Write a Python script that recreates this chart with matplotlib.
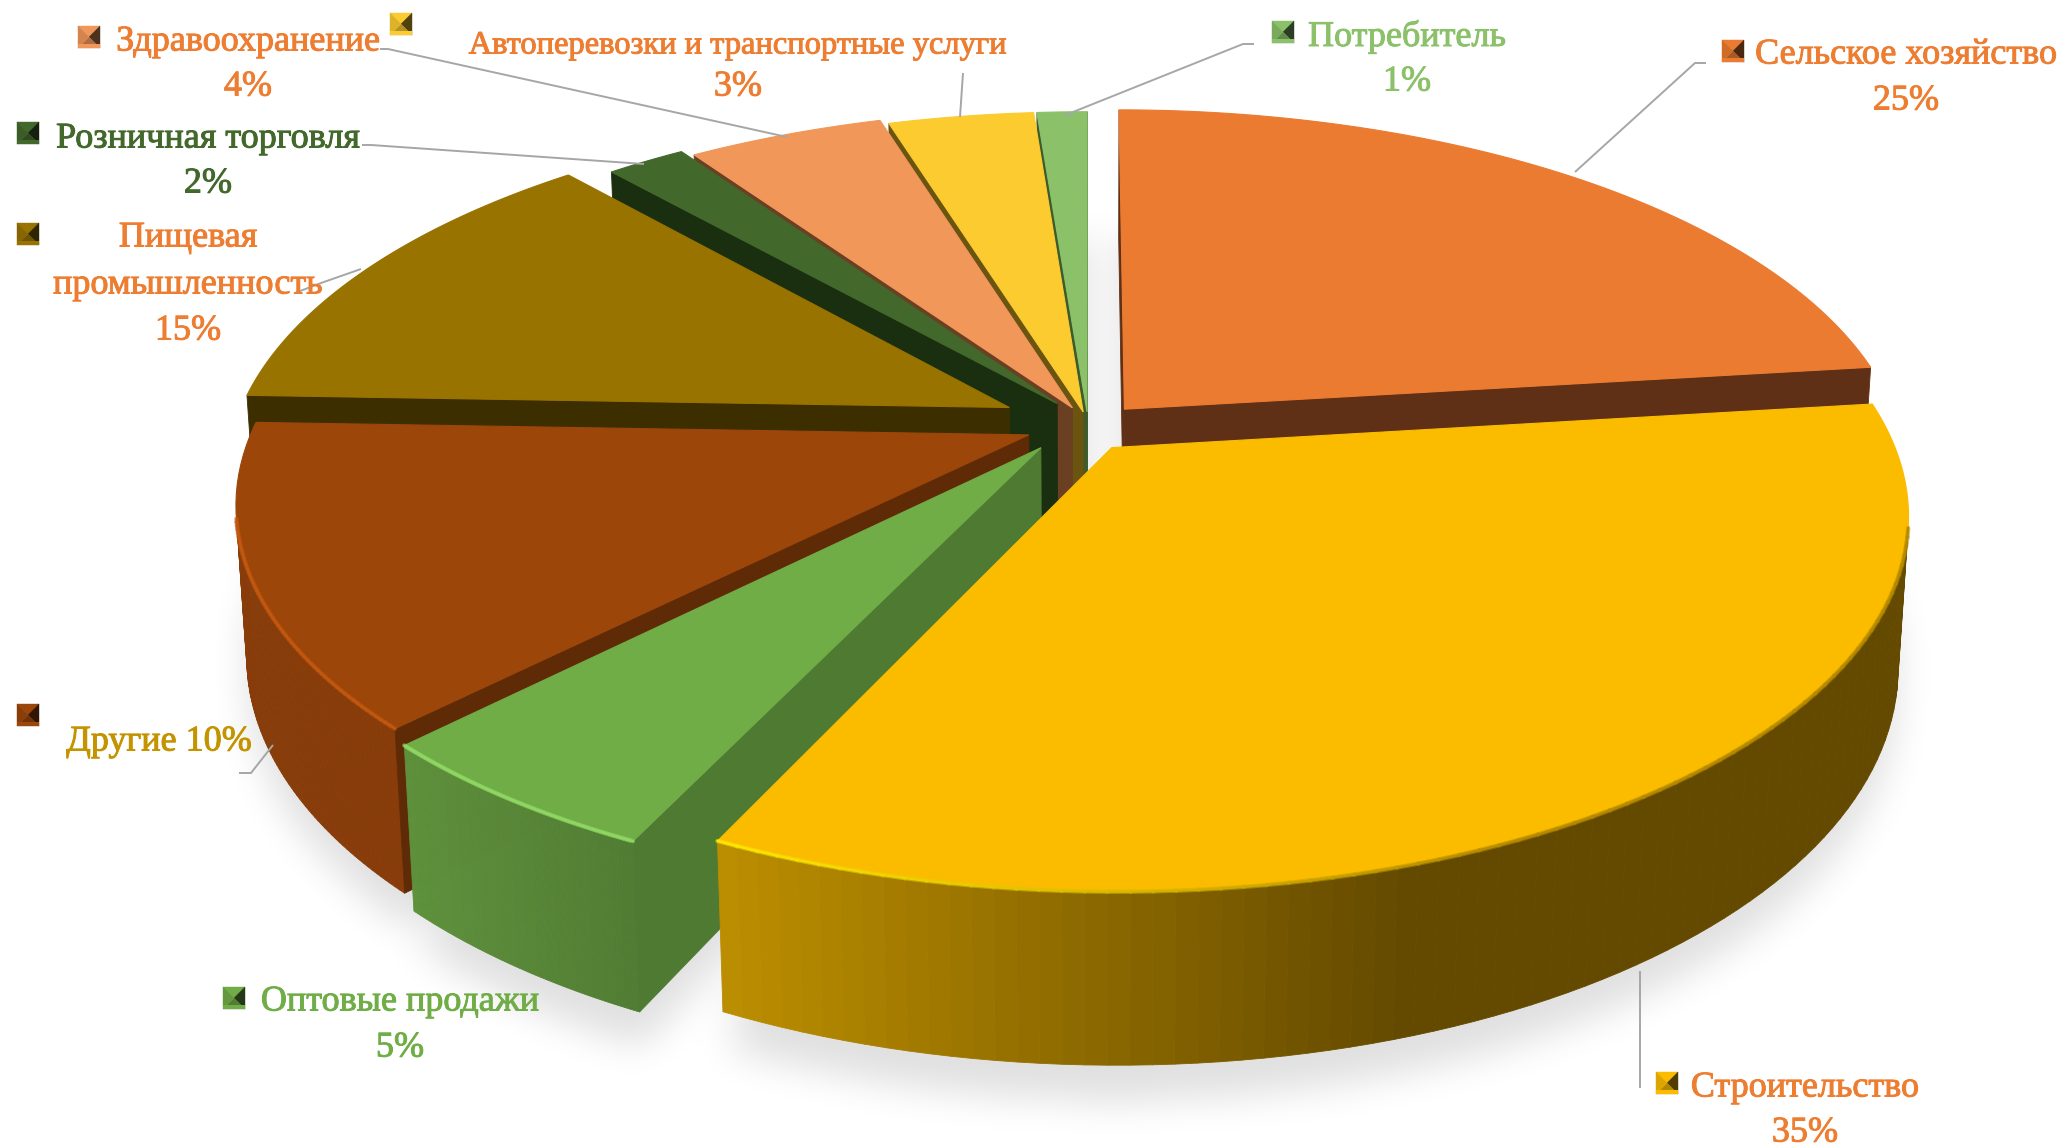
import numpy as np
import matplotlib
matplotlib.use("Agg")
import matplotlib.pyplot as plt
import matplotlib.patheffects as pe
from matplotlib.collections import PolyCollection, LineCollection
from matplotlib.colors import to_rgb
from matplotlib.patches import Polygon
from matplotlib.path import Path
from matplotlib.transforms import Transform, Affine2D

# ---------- data ----------
categories = ["Сельское хозяйство", "Строительство", "Оптовые продажи", "Другие",
              "Пищевая промышленность", "Розничная торговля", "Здравоохранение",
              "Автоперевозки и транспортные услуги", "Потребитель"]
shares = [25, 35, 5, 10, 15, 2, 4, 3, 1]

# ---------- style ----------
top_colors = ["#EB7B30", "#FBBC00", "#70AD47", "#9C460A", "#997300",
              "#43682B", "#F1975A", "#FBCB30", "#8BC169"]
wall_left = ["#5F3015", "#BC8E00", "#5E913C", "#873C0A", "#3D2E00",
             "#1A2E10", "#6B3F22", "#6B5310", "#3E5C2B"]
wall_right = ["#5F3015", "#644A00", "#4F7A32", "#843B0A", "#3D2E00",
              "#1A2E10", "#6B3F22", "#6B5310", "#3E5C2B"]
radial_colors = ["#5F3015", "#644A00", "#4F7A32", "#5F2B07", "#3D2E00",
                 "#1A2E10", "#6B3F22", "#6B5310", "#3E5C2B"]
rim_left = ["#C86A2A", "#FFE800", "#8FD663", "#C2570F", "#997300",
            "#43682B", "#F1975A", "#FBCB30", "#8BC169"]
rim_right = ["#C86A2A", "#B58A00", "#7FC253", "#C2570F", "#997300",
             "#43682B", "#F1975A", "#FBCB30", "#8BC169"]
paint_order = [8, 7, 6, 5, 0, 4, 3, 2, 1]
explode_amounts = [0.067, 0.067, 0.085, 0.08, 0.115, 0.075, 0.055, 0.04, 0.04]

# Perspective of the picture (pixels of the full-size canvas)
CX, CY = 1088.0, 426.0
RX, RY = 775.0, 357.5
DIST = 5.68
HEIGHT = 149.0
Z_RECEDE = 0.07
# Excel's 3-D view slightly distorts the slice angles
ANGLE_TRUE = [0, 90, 216, 234, 270, 324, 331.2, 345.6, 356.4, 360]
ANGLE_SEEN = [0, 83, 205.3, 224.6, 272, 318.5, 325.5, 342.8, 355.6, 360]


class PieProjection(Transform):
    """Maps pie coordinates of one exploded slice on to the tilted 3-D view."""
    input_dims = output_dims = 2
    is_affine = False
    has_inverse = False

    def __init__(self, center):
        super().__init__()
        self.center = np.asarray(center, float)

    def project(self, xy, z=0.0):
        xy = np.atleast_2d(xy)
        rel = xy - self.center
        r = np.hypot(rel[:, 0], rel[:, 1])
        clock = np.degrees(np.arctan2(rel[:, 0], rel[:, 1])) % 360
        seen = np.radians(np.interp(clock, ANGLE_TRUE, ANGLE_SEEN))
        x = self.center[0] + r * np.sin(seen)
        y = self.center[1] + r * np.cos(seen)
        s = DIST / (DIST + y + Z_RECEDE * z)
        return np.column_stack([CX + RX * x * s, CY - RY * y * s + HEIGHT * z * s])

    def transform_non_affine(self, values):
        return self.project(values)

    def transform_path_non_affine(self, path):
        polys = path.transformed(Affine2D().scale(3000)).to_polygons(closed_only=False)
        v = np.concatenate(polys) / 3000.0
        return Path(self.project(v))


fig = plt.figure(figsize=(20.64, 11.46), dpi=100, facecolor="white")
ax = fig.add_axes([0, 0, 1, 1])

wedges, _ = ax.pie(shares, explode=explode_amounts, startangle=90,
                   counterclock=False, colors=top_colors, radius=1.0)
ax.set_aspect("auto")
ax.set_xlim(0, 2064)
ax.set_ylim(1146, 0)
ax.axis("off")


def area(q):
    x, y = q[:, 0], q[:, 1]
    return 0.5 * np.sum(x * np.roll(y, -1) - np.roll(x, -1) * y)


def arc_points(w, n=90):
    t = np.radians(np.linspace(w.theta2, w.theta1, n))  # clockwise on the pie
    return np.column_stack([w.center[0] + w.r * np.cos(t), w.center[1] + w.r * np.sin(t)])


# soft shadow on the floor
gx, gy = np.meshgrid(np.arange(0, 2064, 4) + 2, np.arange(0, 1146, 4) + 2)
grid = np.column_stack([gx.ravel(), gy.ravel()])
mask = np.zeros(gx.shape)
for w in wedges:
    proj = PieProjection(w.center)
    poly = np.vstack([[w.center], arc_points(w)])
    for zz in (1.0, 1.22):
        pg = proj.project(poly, zz)
        mask = np.maximum(mask, Path(pg).contains_points(grid).reshape(gx.shape).astype(float))
kernel = np.ones(9) / 9.0
for _ in range(3):
    mask = np.apply_along_axis(lambda c: np.convolve(c, kernel, mode="same"), 0, mask)
    mask = np.apply_along_axis(lambda c: np.convolve(c, kernel, mode="same"), 1, mask)
rgba = np.zeros(mask.shape + (4,))
rgba[..., 3] = mask * 0.125
ax.imshow(rgba, extent=(0, 2064, 1146, 0), origin="upper", aspect="auto", zorder=1,
          interpolation="bilinear")
ax.set_xlim(0, 2064)
ax.set_ylim(1146, 0)

# slices, back to front
for rank, i in enumerate(paint_order):
    w = wedges[i]
    proj = PieProjection(w.center)
    base = 10 + 10 * rank
    arc = arc_points(w)
    top = proj.project(arc, 0.0)
    bot = proj.project(arc, 1.0)

    quads, cols, rim_segs, rim_cols = [], [], [], []
    cl, cr = np.array(to_rgb(wall_left[i])), np.array(to_rgb(wall_right[i]))
    rl, rr = np.array(to_rgb(rim_left[i])), np.array(to_rgb(rim_right[i]))
    for k in range(len(arc) - 1):
        q = np.array([top[k], top[k + 1], bot[k + 1], bot[k]])
        if area(q) >= 0:
            continue
        xm = q[:, 0].mean()
        f = np.clip((xm - 720) / (1400 - 720), 0, 1) if i == 1 else \
            np.clip((xm - 410) / (660 - 410), 0, 1)
        quads.append(q)
        cols.append(cl + (cr - cl) * f)
        g = np.clip((xm - 720) / (1500 - 720), 0, 1)
        rim_segs.append(top[k:k + 2])
        rim_cols.append(rl + (rr - rl) * g)
    if quads:
        ax.add_collection(PolyCollection(quads, facecolors=cols, edgecolors=cols,
                                         linewidths=0.6, zorder=base + 1))
        ax.add_collection(LineCollection(rim_segs, colors=rim_cols, linewidths=3.2,
                                         alpha=0.55, zorder=base + 4, capstyle="round"))
        ax.add_collection(LineCollection(rim_segs, colors=rim_cols, linewidths=1.6,
                                         zorder=base + 4, capstyle="round"))

    apex_t = proj.project(np.array(w.center), 0.0)[0]
    apex_b = proj.project(np.array(w.center), 1.0)[0]
    for idx, sign in ((0, -1), (-1, 1)):
        q = np.array([apex_t, top[idx], bot[idx], apex_b])
        if area(q) * sign > 0:
            ax.add_patch(Polygon(q, closed=True, facecolor=radial_colors[i],
                                 edgecolor=radial_colors[i], linewidth=0.6,
                                 zorder=base + 2))

    w.set_transform(proj + ax.transData)
    w.set_clip_on(False)
    w.set_zorder(base + 3)
    w.set_edgecolor(top_colors[i])
    w.set_linewidth(0.8)

# ---------- labels ----------
ORANGE, DGREEN, LGREEN, GREEN, GOLD = "#ED7D31", "#43682B", "#8BC169", "#70AD47", "#C49400"
SERIF = "Liberation Serif"
labels = [
    ("Сельское хозяйство", 1906, 55, ORANGE, 26), ("25%", 1906, 101, ORANGE, 26),
    ("Строительство", 1805, 1088, ORANGE, 26), ("35%", 1805, 1133, ORANGE, 26),
    ("Оптовые продажи", 400, 1002, GREEN, 26), ("5%", 400, 1048, GREEN, 26),
    ("Другие 10%", 159, 742, GOLD, 26),
    ("Пищевая", 188, 238, ORANGE, 26), ("промышленность", 188, 285, ORANGE, 26),
    ("15%", 188, 331, ORANGE, 26),
    ("Розничная торговля", 208, 139, DGREEN, 26), ("2%", 208, 184, DGREEN, 26),
    ("Здравоохранение", 248, 42, ORANGE, 26), ("4%", 248, 87, ORANGE, 26),
    ("Автоперевозки и транспортные услуги", 738, 46, ORANGE, 23.4), ("3%", 738, 87, ORANGE, 26),
    ("Потребитель", 1407, 37, LGREEN, 26), ("1%", 1407, 82, LGREEN, 26),
]
for s, x, y, c, fs in labels:
    ax.text(x, y, s, color=c, fontsize=fs, family=SERIF, ha="center", va="center", zorder=200,
            path_effects=[pe.withStroke(linewidth=0.7, foreground=c)])

leaders = [
    [(380, 49), (388, 49), (787, 137)],
    [(362, 145), (371, 145), (644, 164)],
    [(295, 293), (321, 283), (361, 269)],
    [(239, 773), (251, 773), (273, 745)],
    [(963, 73), (960, 117)],
    [(1254, 44), (1243, 44), (1063, 116)],
    [(1706, 63), (1695, 63), (1575, 172)],
    [(1640, 971), (1640, 1088)],
]
for pts in leaders:
    p = np.array(pts)
    ax.plot(p[:, 0], p[:, 1], color="#A6A6A6", lw=1.4, zorder=150, solid_capstyle="butt")

keys = [(1722, 40, 0), (1656, 1072, 1), (223, 987, 2), (17, 704, 3), (17, 223, 4),
        (17, 122, 5), (78, 26, 6), (390, 13, 7), (1272, 21, 8)]
for x0, y0, i in keys:
    b = np.array(to_rgb(top_colors[i]))
    sz = 22.0
    c_ = (x0 + sz / 2, y0 + sz / 2)
    a, bb, cc, d = (x0, y0), (x0 + sz, y0), (x0 + sz, y0 + sz), (x0, y0 + sz)
    faces = [((a, bb, c_), b), ((bb, cc, c_), b * 0.32), ((cc, d, c_), b * 0.72),
             ((d, a, c_), b * 0.88)]
    for tri, col in faces:
        ax.add_patch(Polygon(tri, closed=True, facecolor=col, edgecolor=col, lw=0.3, zorder=201))
    ax.add_patch(Polygon([(x0, y0 + sz - 4), (x0 + sz, y0 + sz - 4), (x0 + sz, y0 + sz), (x0, y0 + sz)],
                         closed=True, facecolor=b, edgecolor="none", zorder=202))

fig.savefig("out.png", dpi=100, facecolor="white")
